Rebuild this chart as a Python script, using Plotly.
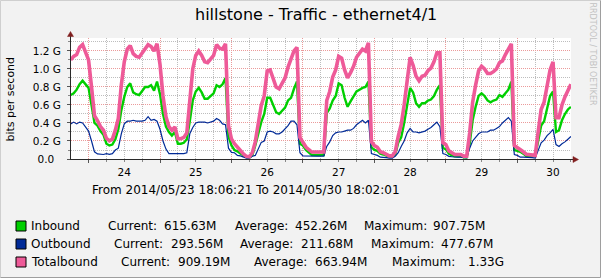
import pandas as pd
import plotly.graph_objects as go

# ---------------- data (Gbit/s), hourly samples starting 2014-05-23 18:00 ----------------
first_sample = "2014-05-23 18:00"
range_start = "2014-05-23 18:06:21"
range_end = "2014-05-30 18:02:01"

inbound = [
    0.71, 0.73, 0.77, 0.83, 0.87, 0.83,                      # 23rd evening
    0.79, 0.60, 0.40, 0.37, 0.31, 0.27, 0.17, 0.15, 0.16, 0.22, 0.33, 0.54,
    0.69, 0.80, 0.84, 0.74, 0.72, 0.71, 0.76, 0.80, 0.80, 0.82, 0.76, 0.86,   # 24th
    0.72, 0.50, 0.36, 0.30, 0.26, 0.30, 0.17, 0.17, 0.18, 0.22, 0.42, 0.65,
    0.75, 0.79, 0.74, 0.67, 0.67, 0.70, 0.73, 0.82, 0.80, 0.83, 0.90, 0.25,   # 25th
    0.15, 0.10, 0.085, 0.06, 0.037, 0.02, 0.015, 0.04, 0.15, 0.28, 0.41, 0.50,
    0.68, 0.68, 0.60, 0.52, 0.50, 0.54, 0.57, 0.65, 0.68, 0.78, 0.86, 0.17,   # 26th
    0.15, 0.10, 0.07, 0.044, 0.044, 0.044, 0.044, 0.044, 0.51, 0.56, 0.65, 0.70,
    0.84, 0.82, 0.68, 0.58, 0.64, 0.69, 0.75, 0.77, 0.79, 0.80, 0.86, 0.13,   # 27th
    0.10, 0.09, 0.06, 0.05, 0.04, 0.025, 0.025, 0.05, 0.18, 0.24, 0.40, 0.60,
    0.79, 0.74, 0.62, 0.58, 0.62, 0.62, 0.65, 0.66, 0.70, 0.77, 0.82, 0.12,   # 28th
    0.11, 0.06, 0.04, 0.03, 0.03, 0.03, 0.02, 0.02, 0.17, 0.43, 0.58, 0.70,
    0.73, 0.70, 0.65, 0.63, 0.65, 0.66, 0.71, 0.69, 0.73, 0.77, 0.86, 0.10,   # 29th
    0.09, 0.08, 0.06, 0.033, 0.033, 0.03, 0.03, 0.20, 0.37, 0.42, 0.55, 0.70,
    0.75, 0.30, 0.32, 0.43, 0.50, 0.55, 0.58,                                 # 30th
]

outbound = [
    0.39, 0.41, 0.39, 0.41, 0.40, 0.36,
    0.31, 0.20, 0.08, 0.056, 0.05, 0.05, 0.06, 0.052, 0.06, 0.10, 0.12, 0.28,
    0.39, 0.42, 0.42, 0.43, 0.42, 0.42, 0.42, 0.43, 0.47, 0.43, 0.44, 0.42,
    0.33, 0.20, 0.11, 0.06, 0.06, 0.055, 0.055, 0.055, 0.06, 0.07, 0.28, 0.35,
    0.40, 0.41, 0.41, 0.41, 0.40, 0.41, 0.42, 0.45, 0.43, 0.39, 0.38, 0.12,
    0.074, 0.07, 0.04, 0.035, 0.02, 0.01, 0.01, 0.03, 0.04, 0.11, 0.185, 0.20,
    0.30, 0.31, 0.30, 0.28, 0.28, 0.30, 0.33, 0.37, 0.42, 0.42, 0.38, 0.07,
    0.035, 0.033, 0.033, 0.033, 0.033, 0.033, 0.033, 0.033, 0.14, 0.19, 0.26, 0.29,
    0.30, 0.30, 0.31, 0.32, 0.32, 0.34, 0.38, 0.41, 0.43, 0.40, 0.43, 0.06,
    0.05, 0.04, 0.02, 0.02, 0.015, 0.01, 0.01, 0.03, 0.07, 0.14, 0.20, 0.29,
    0.34, 0.30, 0.30, 0.29, 0.30, 0.31, 0.33, 0.35, 0.38, 0.41, 0.36, 0.06,
    0.05, 0.03, 0.025, 0.02, 0.02, 0.02, 0.012, 0.012, 0.12, 0.20, 0.24, 0.28,
    0.30, 0.30, 0.30, 0.32, 0.32, 0.34, 0.36, 0.40, 0.43, 0.46, 0.42, 0.05,
    0.04, 0.02, 0.02, 0.02, 0.015, 0.015, 0.01, 0.10, 0.18, 0.21, 0.26, 0.29,
    0.33, 0.16, 0.14, 0.17, 0.19, 0.22, 0.25,
]

# Totalbound = Inbound + Outbound (as the RRD CDEF does)
totalbound = [round(a + b, 4) for a, b in zip(inbound, outbound)]

times = pd.date_range(first_sample, periods=len(inbound), freq="h")

y_tickvals = [0.0, 0.2, 0.4, 0.6, 0.8, 1.0, 1.2]
y_ticktext = ["0.0\u00a0\u00a0", "0.2 G", "0.4 G", "0.6 G", "0.8 G", "1.0 G", "1.2 G"]

title_text = "hillstone - Traffic - ethernet4/1"
y_title = "bits per second"
comment = "From 2014/05/23 18:06:21 To 2014/05/30 18:02:01"
watermark = "RRDTOOL / TOBI OETIKER"

series_names = ["Inbound", "Outbound", "Totalbound"]
series_colors = ["#00CF00", "#002A97", "#EE5A98"]
current_vals = ["615.63M", "293.56M", "909.19M"]
average_vals = ["452.26M", "211.68M", "663.94M"]
maximum_vals = ["907.75M", "477.67M", "1.33G"]

# ---------------- figure ----------------
W, H = 601, 278
L, R, T, B = 71, 30, 38, 119
PW, PH = W - L - R, H - T - B
FONT = "DejaVu Sans"


def PX(x):
    return (x - L) / PW


def PY(y):
    return (H - B - y) / PH


fig = go.Figure()
widths = [2.4, 1.2, 3.6]
for name, vals, col, w in zip(series_names, [inbound, outbound, totalbound], series_colors, widths):
    fig.add_trace(go.Scatter(
        x=times, y=vals, mode="lines", name=name,
        line=dict(color=col, width=w, shape="linear"),
        hoverinfo="skip",
    ))

MAJOR = "#EB9A9A"
MINOR = "#BDBDBD"
AXIS = "#2A2A2A"

fig.update_layout(
    template="none",
    width=W, height=H,
    margin=dict(l=L, r=R, t=T, b=B, pad=0),
    paper_bgcolor="#F2F2F2",
    plot_bgcolor="#FFFFFF",
    showlegend=False,
    font=dict(family=FONT, color="#000000"),
    xaxis=dict(
        type="date", range=[range_start, range_end], automargin=False,
        dtick=86400000, tick0="2014-05-24 00:00", tickformat="%d",
        ticklabelmode="period",
        showgrid=True, gridcolor=MAJOR, griddash="1px,1px", gridwidth=1,
        ticks="outside", ticklen=3, tickcolor="#555555",
        tickfont=dict(size=10.5, family=FONT, color="#000000"),
        showline=True, linecolor=AXIS, linewidth=1, zeroline=False,
        minor=dict(dtick=21600000, tick0="2014-05-24 00:00", showgrid=True,
                   gridcolor=MINOR, griddash="1px,1px", gridwidth=1,
                   ticks="outside", ticklen=2, tickcolor="#888888"),
        fixedrange=True,
    ),
    yaxis=dict(
        range=[0, 1.344], automargin=False,
        tickmode="array", tickvals=y_tickvals, ticktext=y_ticktext,
        showgrid=True, gridcolor=MAJOR, griddash="1px,1px", gridwidth=1,
        ticks="outside", ticklen=3, tickcolor="#555555",
        ticklabelstandoff=4,
        tickfont=dict(size=10.5, family=FONT, color="#000000"),
        showline=True, linecolor=AXIS, linewidth=1, zeroline=False,
        minor=dict(dtick=0.1, tick0=0, showgrid=True,
                   gridcolor=MINOR, griddash="1px,1px", gridwidth=1,
                   ticks="outside", ticklen=2, tickcolor="#888888"),
        fixedrange=True,
    ),
)

shapes = []
# frame (rrdtool 3D shade)
shapes.append(dict(type="line", xref="paper", yref="paper", x0=PX(0.5), x1=PX(W - 0.5), y0=PY(0.5), y1=PY(0.5), line=dict(color="#CFCFCF", width=1)))
shapes.append(dict(type="line", xref="paper", yref="paper", x0=PX(0.5), x1=PX(0.5), y0=PY(0.5), y1=PY(H - 0.5), line=dict(color="#CFCFCF", width=1)))
shapes.append(dict(type="line", xref="paper", yref="paper", x0=PX(W - 0.5), x1=PX(W - 0.5), y0=PY(0.5), y1=PY(H - 0.5), line=dict(color="#9E9E9E", width=1)))
shapes.append(dict(type="line", xref="paper", yref="paper", x0=PX(0.5), x1=PX(W - 0.5), y0=PY(H - 0.5), y1=PY(H - 0.5), line=dict(color="#9E9E9E", width=1)))
# axis extensions + arrows
shapes.append(dict(type="line", xref="paper", yref="paper", x0=1, x1=PX(575), y0=PY(159.5), y1=PY(159.5), line=dict(color=AXIS, width=1)))
shapes.append(dict(type="line", xref="paper", yref="paper", x0=PX(70.5), x1=PX(70.5), y0=1, y1=PY(35), line=dict(color=AXIS, width=1)))
shapes.append(dict(type="path", xref="paper", yref="paper",
                   path=f"M {PX(573)} {PY(156.5)} L {PX(578.5)} {PY(159.5)} L {PX(573)} {PY(162.5)} Z",
                   fillcolor="#801F1F", line=dict(color="#801F1F", width=0.5)))
shapes.append(dict(type="path", xref="paper", yref="paper",
                   path=f"M {PX(67.5)} {PY(36.5)} L {PX(70.5)} {PY(31.5)} L {PX(73.5)} {PY(36.5)} Z",
                   fillcolor="#801F1F", line=dict(color="#801F1F", width=0.5)))

# legend boxes
row_y = [226, 244, 262]
for yc, col in zip(row_y, series_colors):
    shapes.append(dict(type="rect", xref="paper", yref="paper",
                       x0=PX(16), x1=PX(26), y0=PY(yc - 5), y1=PY(yc + 5),
                       fillcolor=col, line=dict(color="#000000", width=1)))
fig.update_layout(shapes=shapes)

ann = []


def text(x, y, s, size=12, color="#000000", xanchor="left", angle=0):
    ann.append(dict(xref="paper", yref="paper", x=PX(x), y=PY(y), text=s, showarrow=False,
                    xanchor=xanchor, yanchor="middle", textangle=angle,
                    font=dict(family=FONT, size=size, color=color)))


text(316, 14, title_text, size=16, xanchor="center")
text(10, 99.5, y_title, size=11, xanchor="center", angle=-90)
text(592.5, 54, watermark, size=8, color="#C2C2C2", xanchor="center", angle=90)
text(90, 190, comment, size=12)

label_x = [[29, 106, 162, 233, 293, 362, 431],
           [29, 112, 169, 238, 299, 369, 439],
           [29, 119, 176, 252, 313, 390, 466]]
for i in range(3):
    xs = label_x[i]
    parts = [series_names[i], "Current:", current_vals[i], "Average:", average_vals[i],
             "Maximum:", maximum_vals[i]]
    for xx, p in zip(xs, parts):
        text(xx, row_y[i], p, size=12)

fig.update_layout(annotations=ann)
fig.write_html("out.html")
